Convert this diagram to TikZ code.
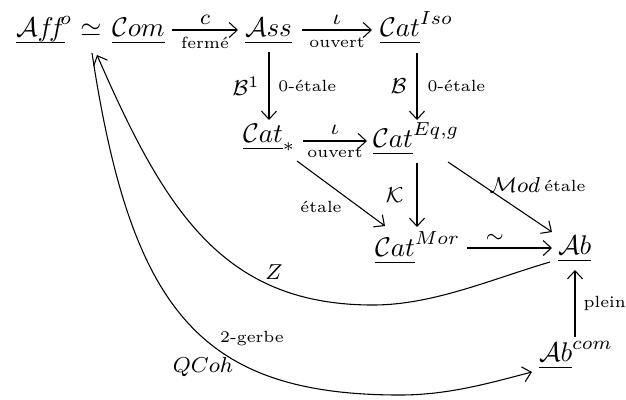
\documentclass[tikz,border=0pt]{standalone}
\usepackage{amsmath}
\usepackage{fontspec}
\usetikzlibrary{arrows.meta}
\newcommand\ulx[1]{\underline{\smash[b]{#1}\rule[-0.7pt]{0pt}{0pt}}}
\begin{document}
\begin{tikzpicture}[x=0.37pt,y=-0.37pt,
  ob/.style={inner sep=0pt,outer sep=0pt},
  ar/.style={line width=0.4pt,-{Straight Barb[length=3pt,width=5.6pt]}},
  lm/.style={inner sep=0pt,font=\fontsize{8}{9.6}\selectfont},
  lt/.style={inner sep=0pt,font=\fontsize{6}{7}\selectfont\addfontfeature{LetterSpace=4}}]
\useasboundingbox (0,0) rectangle (626,399);
% objects
\node[ob,anchor=base west] (aff) at (16,36.5) {$\ulx{\mathcal{A}f\!f}^{\kern-1.8pt o}$};
\node[ob,anchor=base] (sim) at (91,36.5) {$\simeq$};
\node[ob,anchor=base west] (com) at (112,36.5) {$\ulx{\mathcal{C}om}$};
\node[ob,anchor=base west] (ass) at (245,36.5) {$\ulx{\mathcal{A}ss}$};
\node[ob,anchor=base west] (iso) at (380,36.5) {$\ulx{\mathcal{C}at}^{Iso}$};
\node[ob,anchor=base west] (cst) at (243,142.5) {$\ulx{\mathcal{C}at}_*$};
\node[ob,anchor=base west] (eq) at (373,147.5) {$\ulx{\mathcal{C}at}^{Eq,g}$};
\node[ob,anchor=base west] (mor) at (375,256.5) {$\ulx{\mathcal{C}at}^{Mor}$};
\node[ob,anchor=base west] (ab) at (558,254.5) {$\ulx{\mathcal{A}b}$};
\node[ob,anchor=base west] (abc) at (539,361.5) {$\ulx{\mathcal{A}b}^{com}$};
% top row
\draw[ar] ([shift={(60,-6.5)}]com.base west) -- ([shift={(-7,-6.5)}]ass.base west)
  node[lm,midway,yshift=3.7pt] (lc) {$c$}
  node[lt,midway,yshift=-4.8pt] (lferme) {fermé};
\draw[ar] ([shift={(57,-6.5)}]ass.base west) -- ([shift={(-8,-6.5)}]iso.base west)
  node[lm,midway,yshift=3.7pt] (liota1) {$\iota$}
  node[lt,midway,yshift=-4.8pt] (louv1) {ouvert};
% verticals
\draw[ar] ([shift={(24,15.5)}]ass.base west) -- ([shift={(26,-22.5)}]cst.base west)
  node[lm,midway,anchor=east,xshift=-3.3pt] (lb1) {$\mathcal{B}^1$}
  node[lt,midway,anchor=west,xshift=3.3pt] (let1) {0-étale};
\draw[ar] ([shift={(37,16.5)}]iso.base west) -- ([shift={(44,-27.5)}]eq.base west)
  node[lm,midway,anchor=east,xshift=-3.7pt] (lb) {$\mathcal{B}$}
  node[lt,midway,anchor=west,xshift=3.7pt] (let2) {0-étale};
% middle row
\draw[ar] ([shift={(60,-1.5)}]cst.base west) -- ([shift={(-6,-6.5)}]eq.base west)
  node[lm,midway,yshift=4pt] (liota2) {$\iota$}
  node[lt,midway,yshift=-4.4pt] (louv2) {ouvert};
\draw[ar] ([shift={(44,15.5)}]eq.base west) -- ([shift={(42,-29.5)}]mor.base west)
  node[lm,midway,anchor=east,xshift=-4.8pt] (lk) {$\mathcal{K}$};
% diagonals
\draw[ar] ([shift={(54,18.5)}]cst.base west) -- ([shift={(10,-30.5)}]mor.base west)
  node[lt,midway,xshift=-7.4pt,yshift=-5pt] (letd) {étale};
\draw[ar] ([shift={(75,14.5)}]eq.base west) -- ([shift={(-6,-22.5)}]ab.base west)
  node[lm,midway,xshift=5.5pt,yshift=4.4pt] (lmod) {$\mathcal{M}od$}
  node[lt,midway,xshift=24pt,yshift=4.1pt] (letm) {étale};
% bottom
\draw[ar] ([shift={(92,-8.5)}]mor.base west) -- ([shift={(-6,-6.5)}]ab.base west)
  node[lm,midway,xshift=-5.4pt,yshift=3.7pt] (lsim) {$\sim$};
\draw[ar] ([shift={(36,-24.5)}]abc.base west) -- ([shift={(17,15.5)}]ab.base west)
  node[lt,midway,anchor=west,xshift=3pt] (lplein) {plein};
% curves
\draw[ar] ([shift={(-8,7.5)}]ab.base west) .. controls (492,279) and (433,305) .. (373,305)
  .. controls (223,305) and (165,211) .. ([shift={(81,18.5)}]aff.base west);
\draw[ar] ([shift={(76,16.5)}]aff.base west) .. controls (131,310) and (200,395) .. (400,395)
  .. controls (450,395) and (493,382) .. ([shift={(-7,10.5)}]abc.base west);
\node[lm] (lz) at (274,272) {$Z$};
\node[lt] (lgerbe) at (252,339) {2-gerbe};
\node[lm] (lqcoh) at (203,367) {$QCoh$};
\end{tikzpicture}
\end{document}
